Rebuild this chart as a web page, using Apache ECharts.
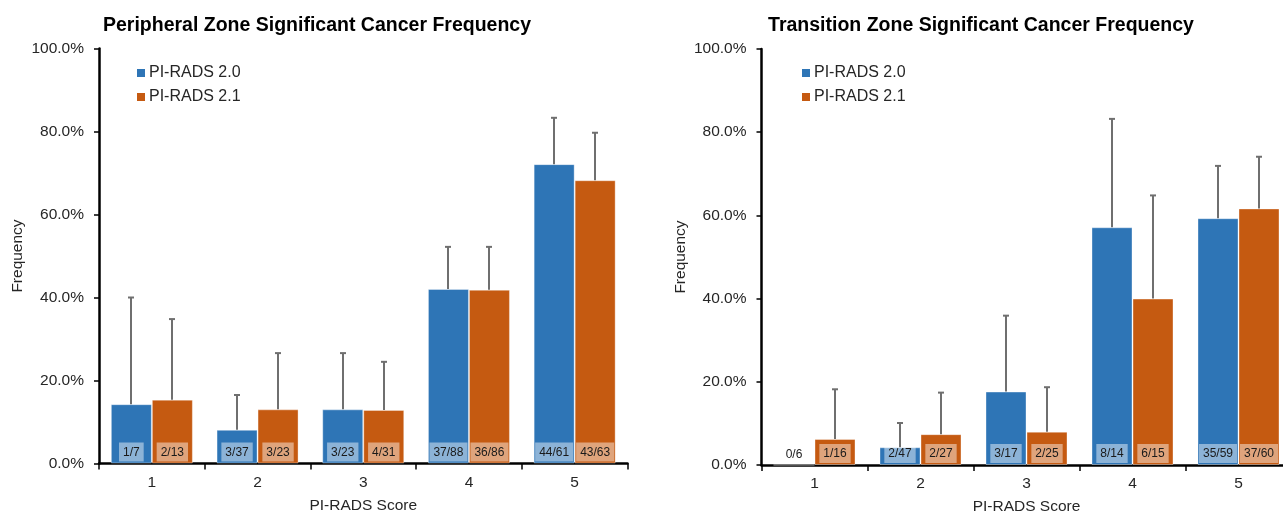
<!DOCTYPE html>
<html>
<head>
<meta charset="utf-8">
<title>PI-RADS Significant Cancer Frequency</title>
<script src="https://cdn.jsdelivr.net/npm/echarts@6/dist/echarts.min.js"></script>
<style>
  html, body { margin: 0; padding: 0; background: #fff; }
  #chart { width: 1283px; height: 514px; }
</style>
</head>
<body>
<div id="chart"></div>
<script>
// PI-RADS score categories
const categories = ['1', '2', '3', '4', '5'];
const seriesNames = ['PI-RADS 2.0', 'PI-RADS 2.1'];

// Peripheral zone: positives / total per score
const pzPos20 = [1, 3, 3, 37, 44];
const pzTot20 = [7, 37, 23, 88, 61];
const pzPos21 = [2, 3, 4, 36, 43];
const pzTot21 = [13, 23, 31, 86, 63];
// Peripheral zone: upper confidence bound (%)
const pzUpper20 = [40.0, 16.5, 26.6, 52.2, 83.3];
const pzUpper21 = [34.8, 26.6, 24.5, 52.2, 79.7];

// Transition zone: positives / total per score
const tzPos20 = [0, 2, 3, 8, 35];
const tzTot20 = [6, 47, 17, 14, 59];
const tzPos21 = [1, 2, 2, 6, 37];
const tzTot21 = [16, 27, 25, 15, 60];
// Transition zone: upper confidence bound (%), none for 0/6
const tzUpper20 = [null, 10.1, 35.9, 83.2, 71.9];
const tzUpper21 = [18.2, 17.4, 18.7, 64.8, 74.1];

// Y axis range (%)
const yMin = 0, yMax = 100, yStep = 20;

const BLUE = '#2e75b6';
const ORANGE = '#c55a11';
const BAR_W = 41;
const FONT = 'Liberation Sans, Arial, sans-serif';
const TEXT = '#262626';

function pct(pos, tot) { return pos.map((p, i) => p / tot[i] * 100); }

function barSeries(name, color, pos, tot, gi) {
  return {
    name: name,
    type: 'bar',
    xAxisIndex: gi,
    yAxisIndex: gi,
    barWidth: BAR_W,
    barGap: '0%',
    itemStyle: { color: color, borderColor: 'rgba(255,255,255,0.35)', borderWidth: 1 },
    data: pct(pos, tot),
    label: {
      show: true,
      position: 'insideBottom',
      distance: 2,
      formatter: p => pos[p.dataIndex] + '/' + tot[p.dataIndex],
      fontFamily: FONT,
      fontSize: 12,
      color: '#1a1a1a',
      backgroundColor: 'rgba(255,255,255,0.45)',
      padding: [4, 4, 3, 4]
    },
    z: 2
  };
}

// Upper-only error bars drawn at the centre of each bar
function errorSeries(pos, tot, upper, gi, side) {
  const vals = pct(pos, tot);
  const data = [];
  upper.forEach((u, i) => { if (u != null) data.push([i, vals[i], u]); });
  return {
    type: 'custom',
    xAxisIndex: gi,
    yAxisIndex: gi,
    silent: true,
    z: 5,
    encode: { x: 0, y: [1, 2] },
    data: data,
    renderItem: function (params, api) {
      const base = api.coord([api.value(0), api.value(1)]);
      const top = api.coord([api.value(0), api.value(2)]);
      const x = Math.round(base[0] + side * BAR_W / 2);
      const st = { stroke: '#6f6f6f', lineWidth: 2 };
      return {
        type: 'group',
        children: [
          { type: 'line', shape: { x1: x, y1: base[1], x2: x, y2: top[1] }, style: st },
          { type: 'line', shape: { x1: x - 3, y1: top[1], x2: x + 3, y2: top[1] }, style: st }
        ]
      };
    }
  };
}

function xAxis(gi) {
  return {
    type: 'category',
    gridIndex: gi,
    data: categories,
    name: 'PI-RADS Score',
    nameLocation: 'middle',
    nameGap: 34,
    nameTextStyle: { fontFamily: FONT, fontSize: 15.5, color: TEXT },
    axisLine: { lineStyle: { color: '#000', width: 2.5 } },
    axisTick: { show: true, length: 6, lineStyle: { color: '#000', width: 1.5 } },
    axisLabel: { fontFamily: FONT, fontSize: 15.5, color: TEXT, margin: 11 },
    splitLine: { show: false }
  };
}

function yAxis(gi) {
  return {
    type: 'value',
    gridIndex: gi,
    min: yMin,
    max: yMax,
    interval: yStep,
    name: 'Frequency',
    nameLocation: 'middle',
    nameGap: 73,
    nameTextStyle: { fontFamily: FONT, fontSize: 15.5, color: TEXT },
    axisLine: { show: true, lineStyle: { color: '#000', width: 2.5 } },
    axisTick: { show: true, length: 5, lineStyle: { color: '#000', width: 1.5 } },
    axisLabel: { fontFamily: FONT, fontSize: 15.5, color: TEXT, margin: 15,
      formatter: v => v.toFixed(1) + '%' },
    splitLine: { show: false }
  };
}

function legend(left) {
  return {
    data: seriesNames,
    orient: 'vertical',
    left: left,
    top: 65,
    padding: 0,
    icon: 'rect',
    itemWidth: 8,
    itemHeight: 8,
    itemGap: 8,
    itemStyle: { borderWidth: 0 },
    textStyle: { fontFamily: FONT, fontSize: 16, color: TEXT, padding: [0, 0, 0, -1] },
    selectedMode: false
  };
}

const chart = echarts.init(document.getElementById('chart'), null, { renderer: 'canvas' });
chart.setOption({
  backgroundColor: '#fff',
  animation: false,
  title: [
    { text: 'Peripheral Zone Significant Cancer Frequency', left: 312, top: 11, textAlign: 'center',
      textStyle: { fontFamily: FONT, fontSize: 19.5, fontWeight: 'bold', color: '#000' } },
    { text: 'Transition Zone Significant Cancer Frequency', left: 976, top: 11, textAlign: 'center',
      textStyle: { fontFamily: FONT, fontSize: 19.5, fontWeight: 'bold', color: '#000' } }
  ],
  legend: [legend(137), legend(802)],
  grid: [
    { left: 99, top: 48.5, width: 528.5, height: 415, outerBoundsMode: 'none', containLabel: false },
    { left: 761.5, top: 49, width: 530, height: 416, outerBoundsMode: 'none', containLabel: false }
  ],
  xAxis: [xAxis(0), xAxis(1)],
  yAxis: [yAxis(0), yAxis(1)],
  series: [
    barSeries(seriesNames[0], BLUE, pzPos20, pzTot20, 0),
    barSeries(seriesNames[1], ORANGE, pzPos21, pzTot21, 0),
    barSeries(seriesNames[0], BLUE, tzPos20, tzTot20, 1),
    barSeries(seriesNames[1], ORANGE, tzPos21, tzTot21, 1),
    errorSeries(pzPos20, pzTot20, pzUpper20, 0, -1),
    errorSeries(pzPos21, pzTot21, pzUpper21, 0, 1),
    errorSeries(tzPos20, tzTot20, tzUpper20, 1, -1),
    errorSeries(tzPos21, tzTot21, tzUpper21, 1, 1)
  ]
});
</script>
</body>
</html>
